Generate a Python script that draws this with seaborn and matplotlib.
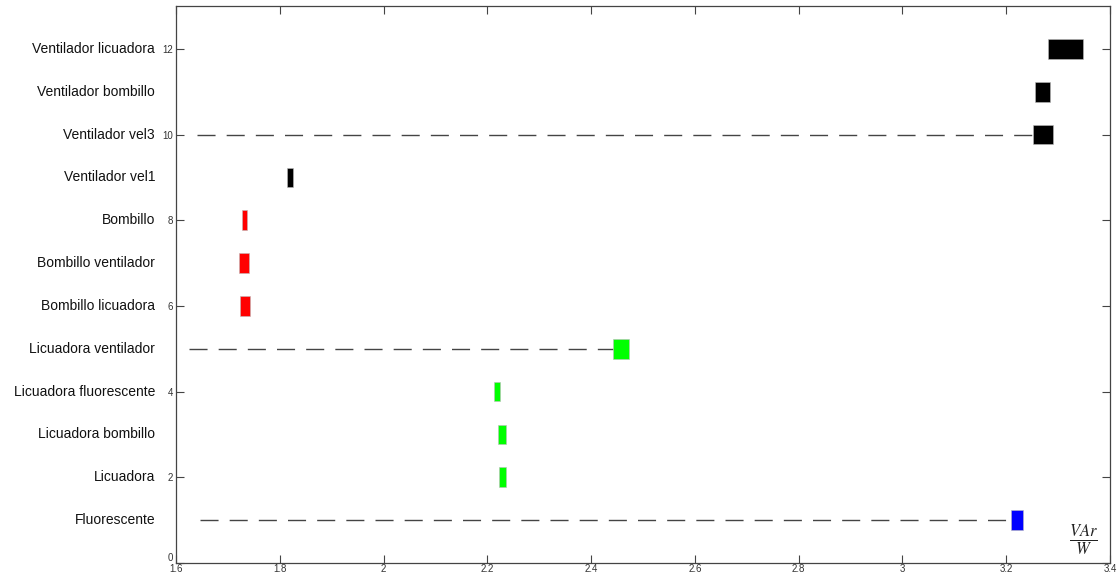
import matplotlib
matplotlib.use("Agg")
import matplotlib.pyplot as plt
import matplotlib.transforms as mtransforms
import seaborn as sns

# Reactive/active power ratio ranges per load combination
loads = ["Fluorescente", "Licuadora", "Licuadora bombillo", "Licuadora fluorescente",
         "Licuadora ventilador", "Bombillo licuadora", "Bombillo ventilador", "Bombillo",
         "Ventilador vel1", "Ventilador vel3", "Ventilador bombillo", "Ventilador licuadora"]
y_pos = [1, 2, 3, 4, 5, 6, 7, 8, 9, 10, 11, 12]
x_min = [3.209, 2.222, 2.220, 2.213, 2.443, 1.723, 1.722, 1.727, 1.814, 3.251, 3.256, 3.281]
x_max = [3.233, 2.235, 2.235, 2.225, 2.473, 1.742, 1.741, 1.737, 1.826, 3.291, 3.285, 3.348]
group_color = ["#0000ff", "#00ff00", "#00ff00", "#00ff00", "#00ff00", "#ff0000",
               "#ff0000", "#ff0000", "#000000", "#000000", "#000000", "#000000"]

# dashed guide lines from the left to the reference loads
guide_y = [1, 5, 10]
guide_start = [1.646, 1.625, 1.640]
guide_end = [3.209, 2.443, 3.251]

x_ticks = [1.6, 1.8, 2.0, 2.2, 2.4, 2.6, 2.8, 3.0, 3.2, 3.4]
x_tick_labels = ["1.6", "1.8", "2", "2.2", "2.4", "2.6", "2.8", "3", "3.2", "3.4"]
y_ticks = [0, 2, 4, 6, 8, 10, 12]

sns.set_style("ticks")
plt.rcParams["font.family"] = ["Liberation Sans", "DejaVu Sans"]
plt.rcParams["mathtext.fontset"] = "stix"

fig = plt.figure(figsize=(11.19, 5.78), dpi=100)
ax = fig.add_axes([0.1573, 0.026, 0.8347, 0.9636])

widths = [b - a for a, b in zip(x_min, x_max)]
ax.barh(y_pos, widths, left=x_min, height=0.46, color=group_color,
        edgecolor="#bbbbbb", linewidth=0.4, zorder=3)

ax.hlines(guide_y, guide_start, guide_end, colors="#444444", linewidth=1.0,
          linestyles=(0, (13, 8)), zorder=2)

ax.set_xlim(1.6, 3.4)
ax.set_ylim(0, 13)
ax.set_xticks(x_ticks)
ax.set_xticklabels(x_tick_labels)
ax.set_yticks(y_ticks)
ax.tick_params(direction="in", length=6, width=0.8, color="#444444",
               labelsize=7, labelcolor="#333333", top=True, right=True, pad=2)
ax.tick_params(axis="x", pad=1)
for s in ax.spines.values():
    s.set_color("#444444")
    s.set_linewidth(0.9)

# lift the "0" a little so it does not sit on the "1.6"
zero_lbl = ax.get_yticklabels()[0]
zero_lbl.set_transform(zero_lbl.get_transform()
                       + mtransforms.ScaledTranslation(0, 4 / 72, fig.dpi_scale_trans))

trans = mtransforms.blended_transform_factory(ax.transAxes, ax.transData)
for name, y in zip(loads, y_pos):
    ax.text(-0.0225, y, name, transform=trans, ha="right", va="center",
            fontsize=10, color="#111111")

ax.text(3.349, 0.55, r"$\frac{VAr}{W}$", ha="center", va="center", fontsize=17,
        color="#222222")

fig.savefig("out.png", dpi=100)
